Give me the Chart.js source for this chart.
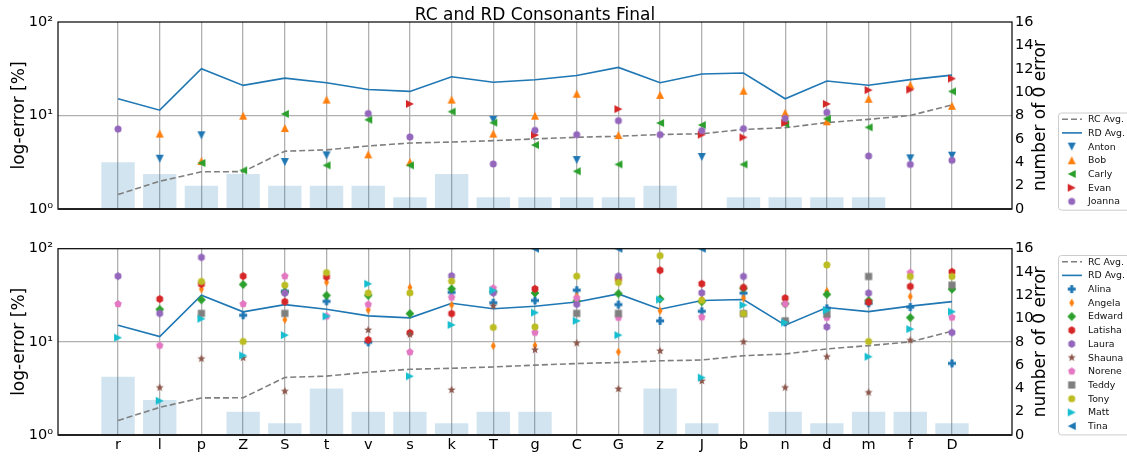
<!DOCTYPE html>
<html>
<head>
<meta charset="utf-8">
<script src="https://cdn.jsdelivr.net/npm/chart.js@4"></script>
<style>
  html, body { margin: 0; padding: 0; background: #fff; }
  body { width: 1127px; height: 456px; position: relative; overflow: hidden; }
  canvas { position: absolute; left: 0; }
  #topChart { top: 0; }
  #bottomChart { top: 235px; }
</style>
</head>
<body>
<canvas id="topChart" width="1127" height="235"></canvas>
<canvas id="bottomChart" width="1127" height="221"></canvas>
<script>
"use strict"

// categories (consonants) along x
const cats = ["r", "l", "p", "Z", "S", "t", "v", "s", "k", "T", "g", "C", "G", "z", "J", "b", "n", "d", "m", "f", "D"];
const logTickLabels = ["10\u2070", "10\u00b9", "10\u00b2"];

// averages, same in both panels (log-error %)
const rcAvg = [1.43, 1.98, 2.5, 2.51, 4.15, 4.29, 4.72, 5.08, 5.2, 5.38, 5.62, 5.85, 6.0, 6.26, 6.38, 7.1, 7.4, 8.4, 9.1, 10.0, 13.0];
const rdAvg = [15.1, 11.4, 31.6, 21.0, 25.1, 22.4, 19.0, 18.1, 26.0, 22.7, 24.1, 26.8, 32.7, 22.4, 27.8, 28.5, 15.1, 23.4, 21.1, 24.2, 27.0];

// number of 0 error (right axis bars)
const topZeroErr = [4, 3, 2, 3, 2, 2, 2, 1, 3, 1, 1, 1, 1, 2, 0, 1, 1, 1, 1, 0, 0];
const bottomZeroErr = [5, 3, 0, 2, 1, 4, 2, 2, 1, 2, 2, 0, 0, 4, 1, 0, 2, 1, 2, 2, 1];

// top panel speakers
const anton  = [null, 3.45, 6.14, null, 3.18, 3.75, null, null, null, 9.0, null, 3.34, null, null, 3.6, null, null, null, null, 3.48, 3.72];
const bob    = [null, 6.4, 3.26, 9.96, 7.35, 14.8, 3.84, 3.18, 14.8, 6.4, 9.96, 17.1, 6.18, 16.6, null, 18.4, 10.7, 8.67, 15.1, 21.2, 12.7];
const carly  = [null, null, 3.1, 2.59, 10.4, 2.93, 9.02, 2.93, 11.0, 8.38, 4.83, 2.53, 3.0, 8.31, 7.91, 3.0, 8.11, 9.25, 7.47, null, 18.1];
const evan   = [null, null, null, null, null, null, null, 13.3, null, null, 6.18, null, 11.7, null, 6.24, 5.84, 8.31, 13.3, 18.7, 18.9, 24.8];
const joanna = [7.17, null, null, null, null, null, 10.5, 5.89, null, 3.03, 6.94, 6.24, 8.81, 6.24, 6.88, 7.23, 9.33, 10.8, 3.69, 3.0, 3.32];

// bottom panel speakers
const alina   = [null, null, null, 19.3, 35, 27.2, 9.9, null, 34, 26.3, 27.8, 35.9, 25.1, 16.8, 21.3, 33.4, 16.2, 22.9, 25.9, 23.6, 5.87];
const angela  = [null, null, 36.8, null, 17.3, 43.7, 22.0, 38.4, 24.8, 9.06, 9.14, 31.0, 7.8, 21.6, 28.8, 29.5, null, 35, null, 30.7, null];
const edward  = [null, 22.3, 28.3, 41.3, 34, 31.5, 31.5, 20.1, 37.1, 34.5, 33.5, 27.5, 33, 28.9, 27, 37.6, 25.7, 32.3, 27.8, 18.2, 36.8];
const latisha = [null, 28.8, 41.6, 50.7, 27.0, 49.9, 10.5, 12.5, 20.1, null, 37.1, null, 47.5, 58.7, 42.0, 38.3, 29.5, null, 26.7, 39.3, 56.4];
const laura   = [50.7, 20.2, 80.8, null, 33.4, null, null, null, 51.1, 33.6, null, 25.3, 50.7, null, 33.6, 50.3, null, 14.5, 33.4, null, 12.6];
const shauna  = [null, 3.23, 6.59, 6.75, 2.95, null, 13.4, 12.0, 3.05, 24.2, 8.22, 9.68, 3.12, 8.0, 3.8, 10.0, 3.23, 6.92, 2.86, 10.4, null];
const norene  = [25.5, 9.14, null, 25.5, 50.7, 18.8, 25.2, 7.76, 30.0, 37.7, 12.6, 29.5, 18.2, null, 18.4, null, 25.5, 18.2, null, 55.4, 18.3];
const teddy   = [null, null, 20.2, null, 20.2, null, null, null, null, null, null, 20.2, 20.2, null, null, 20.1, 16.8, 19.9, 50.3, null, 40.6];
const tony    = [null, null, 44.5, 10.1, 40.6, 55.4, 33.4, 33.6, 44.8, 14.3, 14.5, 50.7, 43.4, 84.2, 27.8, 20.1, null, 67.0, 10.1, 50.3, 50.3];
const matt    = [11.1, 2.33, 17.7, 7.14, 11.8, 18.8, 42.0, 4.27, 15.2, 35.6, 20.6, 16.8, 11.8, 28.4, 4.13, 24.8, 16.1, 21.8, 6.92, 13.7, 21.1];
const tina    = [null, null, null, null, null, null, null, null, null, null, 100, null, 100, null, 100, null, null, null, null, null, null];

const FONT = "DejaVu Sans";
Chart.defaults.font.family = FONT;
Chart.defaults.color = "#000";

const pts = arr => arr.map((y, x) => ({ x: x, y: y }));

// matplotlib-like marker glyphs drawn on a small canvas
function marker(shape, color, size) {
    const c = document.createElement("canvas");
    c.width = c.height = size;
    const g = c.getContext("2d");
    const m = size / 2, r = size / 2 - 1;
    const poly = list => {
        list.forEach(([x, y], i) => i ? g.lineTo(m + x, m + y) : g.moveTo(m + x, m + y));
        g.closePath();
    };
    const ngon = (n, rad) => poly(Array.from({ length: n }, (_, k) => {
        const a = k * 2 * Math.PI / n;
        return [rad * Math.sin(a), -rad * Math.cos(a)];
    }));
    g.fillStyle = color;
    g.beginPath();
    switch (shape) {
        case "o": g.arc(m, m, r * 0.88, 0, 2 * Math.PI); break;
        case "^": poly([[0, -r], [r, r], [-r, r]]); break;
        case "v": poly([[0, r], [r, -r], [-r, -r]]); break;
        case "<": poly([[-r, 0], [r, -r], [r, r]]); break;
        case ">": poly([[r, 0], [-r, -r], [-r, r]]); break;
        case "D": poly([[0, -r * 1.1], [r * 1.1, 0], [0, r * 1.1], [-r * 1.1, 0]]); break;
        case "d": poly([[0, -r * 1.05], [r * 0.62, 0], [0, r * 1.05], [-r * 0.62, 0]]); break;
        case "s": poly([[-r * 0.9, -r * 0.9], [r * 0.9, -r * 0.9], [r * 0.9, r * 0.9], [-r * 0.9, r * 0.9]]); break;
        case "h": ngon(6, r * 0.97); break;
        case "p": ngon(5, r * 0.97); break;
        case "*": {
            const list = [];
            for (let k = 0; k < 10; k++) {
                const a = k * Math.PI / 5, rad = k % 2 ? r * 0.45 : r * 1.05;
                list.push([rad * Math.sin(a), -rad * Math.cos(a)]);
            }
            poly(list);
            break;
        }
        case "P": {
            const w = r * 0.38;
            poly([[-w, -r], [w, -r], [w, -w], [r, -w], [r, w], [w, w], [w, r], [-w, r], [-w, w], [-r, w], [-r, -w], [-w, -w]]);
            break;
        }
    }
    g.fill();
    return c;
}

// frame, titles and legend
const decor = {
    id: "decor",
    afterDraw(chart, args, o) {
        const { ctx, chartArea: a } = chart;
        ctx.save();
        ctx.strokeStyle = "#000";
        ctx.lineWidth = 1.2;
        ctx.strokeRect(a.left, a.top, a.right - a.left, a.bottom - a.top);
        ctx.lineWidth = 2;
        ctx.strokeStyle = "#222";
        ctx.beginPath();
        ctx.moveTo(a.left, a.bottom);
        ctx.lineTo(a.right, a.bottom);
        ctx.stroke();

        ctx.fillStyle = "#000";
        ctx.font = `17px "${FONT}"`;
        ctx.textAlign = "center";
        ctx.textBaseline = "middle";
        const midY = (a.top + a.bottom) / 2;
        [[20, o.leftTitle], [1041, o.rightTitle]].forEach(([x, t]) => {
            ctx.save();
            ctx.translate(x, midY);
            ctx.rotate(-Math.PI / 2);
            ctx.fillText(t, 0, 0);
            ctx.restore();
        });
        if (o.title) {
            ctx.textBaseline = "alphabetic";
            ctx.fillText(o.title, (a.left + a.right) / 2, a.top - 2);
        }

        // legend
        const items = chart.data.datasets.filter(d => d.label);
        const rowH = 13.7, top = o.legendTop;
        const h = 6.7 + (items.length - 1) * rowH + 8.3;
        ctx.fillStyle = "rgba(255,255,255,0.8)";
        ctx.strokeStyle = "#cccccc";
        ctx.lineWidth = 1;
        ctx.beginPath();
        ctx.roundRect(1058.5, top + 0.5, 100, h, 3);
        ctx.fill();
        ctx.stroke();
        ctx.font = `9.4px "${FONT}"`;
        ctx.textAlign = "left";
        ctx.textBaseline = "middle";
        items.forEach((d, i) => {
            const y = top + 6.7 + i * rowH;
            if (d.pointStyle instanceof HTMLCanvasElement) {
                ctx.drawImage(d.pointStyle, 1071.7 - d.pointStyle.width / 2, y - d.pointStyle.height / 2);
            } else {
                ctx.strokeStyle = d.borderColor;
                ctx.lineWidth = d.borderWidth;
                ctx.setLineDash(d.borderDash || []);
                ctx.beginPath();
                ctx.moveTo(1062, y);
                ctx.lineTo(1082, y);
                ctx.stroke();
                ctx.setLineDash([]);
            }
            ctx.fillStyle = "#111";
            ctx.fillText(d.label, 1088, y + 0.5);
        });
        ctx.restore();
    }
};


function makePanel(canvasId, barVals, people, o) {
    const datasets = [
        {
            type: "bar", data: pts(barVals), yAxisID: "y2",
            backgroundColor: "rgba(31,119,180,0.2)", borderWidth: 0,
            barPercentage: 0.8, categoryPercentage: 1, order: 1000
        },
        {
            type: "line", label: "RC Avg.", data: pts(rcAvg), yAxisID: "y",
            borderColor: "#7f7f7f", borderWidth: 1.6, borderDash: [6, 3], pointRadius: 0, order: 500
        },
        {
            type: "line", label: "RD Avg.", data: pts(rdAvg), yAxisID: "y",
            borderColor: "#1f77b4", borderWidth: 1.6, pointRadius: 0, order: 499
        }
    ];
    people.forEach((p, k) => {
        datasets.push({
            type: "line", label: p.name, data: pts(p.vals), yAxisID: "y",
            showLine: false, pointStyle: marker(p.shape, p.color, 10), pointRadius: 4,
            order: 100 - k
        });
    });

    const tickFont = { family: FONT, size: 14.5 };

    return new Chart(document.getElementById(canvasId), {
        type: "line",
        data: { datasets: datasets },
        plugins: [decor],
        options: {
            responsive: false,
            animation: false,
            events: [],
            layout: { padding: { top: o.padTop, left: 0, right: 0, bottom: 0 } },
            plugins: {
                legend: { display: false },
                tooltip: { enabled: false },
                decor: o
            },
            scales: {
                x: {
                    type: "linear", min: -1.44, max: 21.44, offset: false,
                    afterBuildTicks: ax => { ax.ticks = cats.map((c, i) => ({ value: i })); },
                    afterFit: ax => { ax.height = o.xHeight; },
                    grid: { color: "#b0b0b0", lineWidth: 1.3, drawTicks: false, offset: false },
                    border: { display: false },
                    ticks: {
                        display: o.xLabels, callback: v => cats[v], font: tickFont,
                        padding: 2, autoSkip: false, maxRotation: 0
                    }
                },
                y: {
                    type: "logarithmic", position: "left", min: 1, max: 100,
                    afterBuildTicks: ax => { ax.ticks = [1, 10, 100].map(v => ({ value: v })); },
                    afterFit: ax => { ax.width = 58; },
                    grid: {
                        color: c => (c.tick && c.tick.value === 10) ? "#b0b0b0" : "rgba(0,0,0,0)",
                        lineWidth: 1.3, drawTicks: false
                    },
                    border: { display: false },
                    ticks: { callback: (v, i) => logTickLabels[i], font: tickFont, padding: 5, autoSkip: false }
                },
                y2: {
                    type: "linear", position: "right", min: 0, max: 16,
                    afterFit: ax => { ax.width = 115; },
                    grid: { drawOnChartArea: false, drawTicks: false },
                    border: { display: false },
                    ticks: { stepSize: 2, font: tickFont, padding: 3, autoSkip: false }
                }
            }
        }
    });
}


makePanel("topChart", topZeroErr, [
    { name: "Anton", vals: anton, shape: "v", color: "#1f77b4" },
    { name: "Bob", vals: bob, shape: "^", color: "#ff7f0e" },
    { name: "Carly", vals: carly, shape: "<", color: "#2ca02c" },
    { name: "Evan", vals: evan, shape: ">", color: "#d62728" },
    { name: "Joanna", vals: joanna, shape: "o", color: "#9467bd" }
], {
    padTop: 22, xHeight: 26, xLabels: false, legendTop: 112.5,
    title: "RC and RD Consonants Final",
    leftTitle: "log-error [%]", rightTitle: "number of 0 error"
});

makePanel("bottomChart", bottomZeroErr, [
    { name: "Alina", vals: alina, shape: "P", color: "#1f77b4" },
    { name: "Angela", vals: angela, shape: "d", color: "#ff7f0e" },
    { name: "Edward", vals: edward, shape: "D", color: "#2ca02c" },
    { name: "Latisha", vals: latisha, shape: "h", color: "#d62728" },
    { name: "Laura", vals: laura, shape: "h", color: "#9467bd" },
    { name: "Shauna", vals: shauna, shape: "*", color: "#8c564b" },
    { name: "Norene", vals: norene, shape: "p", color: "#e377c2" },
    { name: "Teddy", vals: teddy, shape: "s", color: "#7f7f7f" },
    { name: "Tony", vals: tony, shape: "o", color: "#bcbd22" },
    { name: "Matt", vals: matt, shape: ">", color: "#17becf" },
    { name: "Tina", vals: tina, shape: "<", color: "#1f77b4" }
], {
    padTop: 13, xHeight: 21, xLabels: true, legendTop: 20,
    title: null,
    leftTitle: "log-error [%]", rightTitle: "number of 0 error"
});
</script>
</body>
</html>
